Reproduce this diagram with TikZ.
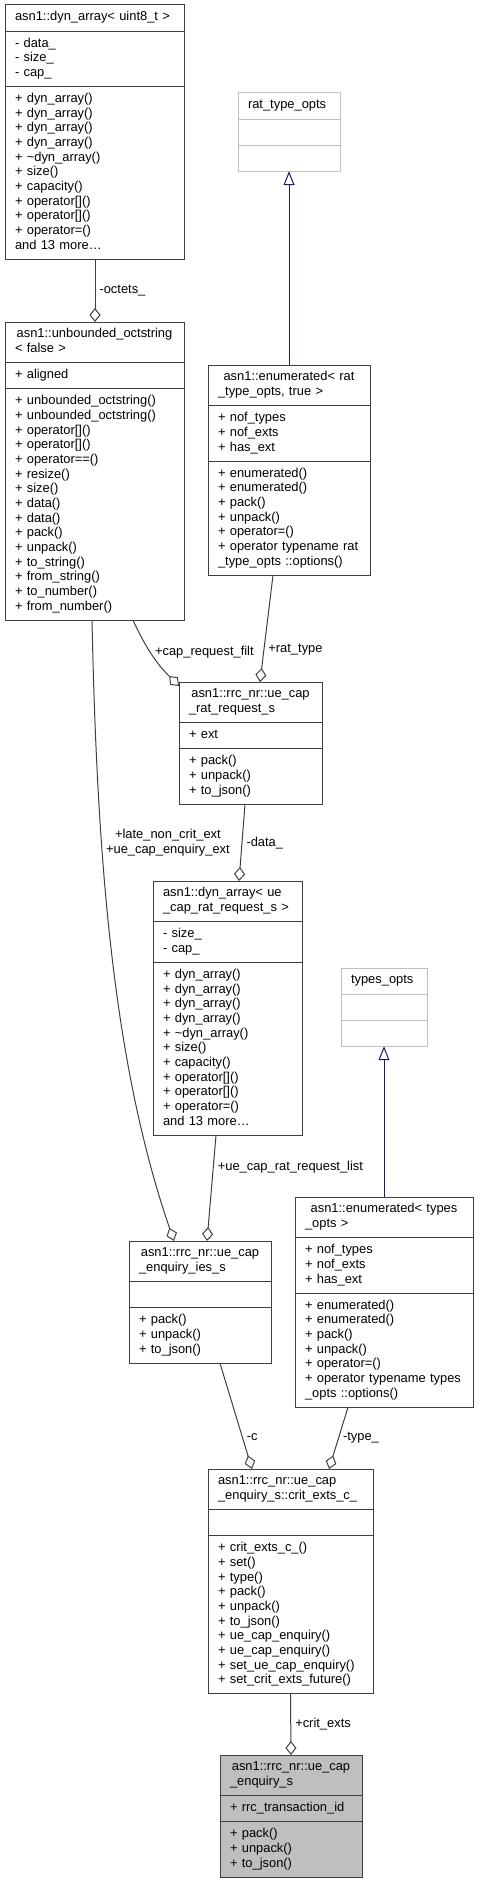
\documentclass[tikz,border=0pt]{standalone}
\usepackage{fontspec}
\setmainfont{Liberation Sans}
\usetikzlibrary{shapes.multipart,arrows.meta}

\definecolor{edgegray}{HTML}{404040}
\definecolor{inhblue}{HTML}{191970}
\definecolor{boxgray}{HTML}{BFBFBF}
\newcommand{\umlfont}{\fontsize{12.9}{14.67}\selectfont}

\tikzset{
  umlclass/.style={rectangle split, rectangle split parts=3, draw=edgegray,
    line width=1pt, font=\umlfont, align=left, inner xsep=10pt,
    inner ysep=5.2pt, outer sep=0pt, anchor=north west},
  extclass/.style={umlclass, draw=boxgray},
  focusclass/.style={umlclass, fill=boxgray},
  member/.style={draw=edgegray, line width=1pt,
    -{Diamond[open,length=14pt,width=11pt]}},
  inherit/.style={draw=inhblue, line width=1pt,
    -{Triangle[open,length=14pt,width=11pt]}},
  lbl/.style={font=\umlfont, inner sep=4pt}
}

\begin{document}
\begin{tikzpicture}[x=1pt, y=-1pt]
    \useasboundingbox (0,0) rectangle (479,1881);

    % Draw the classes
    \node[umlclass, text width=159pt] (dynu8) at (5,5)
        {\centering\strut asn1::dyn\_array< uint8\_t >\strut
         \nodepart{two}\strut - data\_\\- size\_\\- cap\_\strut
         \nodepart{three}\strut + dyn\_array()\\+ dyn\_array()\\+ dyn\_array()\\+ dyn\_array()\\+ \textasciitilde dyn\_array()\\+ size()\\+ capacity()\\+ operator[]()\\+ operator[]()\\+ operator=()\\and 13 more\ldots\strut};
    \node[umlclass, text width=159pt] (octstr) at (5,322)
        {\centering\strut asn1::unbounded\_octstring\\< false >\strut
         \nodepart{two}\strut + aligned\strut
         \nodepart{three}\strut + unbounded\_octstring()\\+ unbounded\_octstring()\\+ operator[]()\\+ operator[]()\\+ operator==()\\+ resize()\\+ size()\\+ data()\\+ data()\\+ pack()\\+ unpack()\\+ to\_string()\\+ from\_string()\\+ to\_number()\\+ from\_number()\strut};
    \node[extclass, text width=82pt] (ratopts) at (238,93)
        {\centering\strut rat\_type\_opts\strut
         \nodepart{two}\strut
         \nodepart{three}\strut};
    \node[umlclass, text width=142pt] (enumrat) at (208,365)
        {\centering\strut asn1::enumerated< rat\\\_type\_opts, true >\strut
         \nodepart{two}\strut + nof\_types\\+ nof\_exts\\+ has\_ext\strut
         \nodepart{three}\strut + enumerated()\\+ enumerated()\\+ pack()\\+ unpack()\\+ operator=()\\+ operator typename rat\\\_type\_opts ::options()\strut};
    \node[umlclass, text width=123pt] (ratreq) at (179,682)
        {\centering\strut asn1::rrc\_nr::ue\_cap\\\_rat\_request\_s\strut
         \nodepart{two}\strut + ext\strut
         \nodepart{three}\strut + pack()\\+ unpack()\\+ to\_json()\strut};
    \node[umlclass, text width=129pt] (dynreq) at (153,881)
        {\strut asn1::dyn\_array< ue\\\_cap\_rat\_request\_s >\strut
         \nodepart{two}\strut - size\_\\- cap\_\strut
         \nodepart{three}\strut + dyn\_array()\\+ dyn\_array()\\+ dyn\_array()\\+ dyn\_array()\\+ \textasciitilde dyn\_array()\\+ size()\\+ capacity()\\+ operator[]()\\+ operator[]()\\+ operator=()\\and 13 more\ldots\strut};
    \node[extclass, text width=66pt] (typesopts) at (341,968)
        {\centering\strut types\_opts\strut
         \nodepart{two}\strut
         \nodepart{three}\strut};
    \node[umlclass, text width=122pt] (ies) at (129,1241)
        {\centering\strut asn1::rrc\_nr::ue\_cap\\\_enquiry\_ies\_s\strut
         \nodepart{two}\strut
         \nodepart{three}\strut + pack()\\+ unpack()\\+ to\_json()\strut};
    \node[umlclass, text width=158pt] (enumtypes) at (295,1197)
        {\centering\strut asn1::enumerated< types\\\_opts >\strut
         \nodepart{two}\strut + nof\_types\\+ nof\_exts\\+ has\_ext\strut
         \nodepart{three}\strut + enumerated()\\+ enumerated()\\+ pack()\\+ unpack()\\+ operator=()\\+ operator typename types\\\_opts ::options()\strut};
    \node[umlclass, text width=145pt] (critc) at (208,1469)
        {\strut asn1::rrc\_nr::ue\_cap\\\_enquiry\_s::crit\_exts\_c\_\strut
         \nodepart{two}\strut
         \nodepart{three}\strut + crit\_exts\_c\_()\\+ set()\\+ type()\\+ pack()\\+ unpack()\\+ to\_json()\\+ ue\_cap\_enquiry()\\+ ue\_cap\_enquiry()\\+ set\_ue\_cap\_enquiry()\\+ set\_crit\_exts\_future()\strut};
    \node[focusclass, text width=122pt] (enq) at (220,1755)
        {\centering\strut asn1::rrc\_nr::ue\_cap\\\_enquiry\_s\strut
         \nodepart{two}\strut + rrc\_transaction\_id\strut
         \nodepart{three}\strut + pack()\\+ unpack()\\+ to\_json()\strut};

    % Draw the inheritance arrows
    \draw[inherit] (enumrat.north) -- (ratopts.south);
    \draw[inherit] (enumtypes.north) -- (typesopts.south);

    % Draw the member links with their labels
    \draw[member] ([xshift=90pt]dynu8.south west) -- ([xshift=90pt]octstr.north west)
        node[lbl, right, midway] {-octets\_};
    \draw[member] ([xshift=65pt]enumrat.south west) -- ([xshift=81pt]ratreq.north west)
        node[lbl, right, pos=0.7] {+rat\_type};
    \draw[member] ([xshift=128pt]octstr.south west) to[out=-65, in=135]
        node[lbl, right, pos=0.45] {+cap\_request\_filt} ([yshift=-4pt]ratreq.north west);
    \draw[member] ([xshift=66pt]ratreq.south west) -- ([xshift=86pt]dynreq.north west)
        node[lbl, right, midway] {-data\_};
    \draw[member] ([xshift=63pt]dynreq.south west) -- ([xshift=78pt]ies.north west)
        node[lbl, right, pos=0.3] {+ue\_cap\_rat\_request\_list};
    \draw[member] ([xshift=87pt]octstr.south west) .. controls +(5,233) and +(-62,-180) .. ([xshift=45pt]ies.north west)
        node[lbl, right, pos=0.33, align=center] {+late\_non\_crit\_ext\\+ue\_cap\_enquiry\_ext};
    \draw[member] ([xshift=91pt]ies.south west) -- ([xshift=44pt]critc.north west)
        node[lbl, right, pos=0.7] {-c};
    \draw[member] ([xshift=53pt]enumtypes.south west) -- ([xshift=121pt]critc.north west)
        node[lbl, right, midway] {-type\_};
    \draw[member] (critc.south) -- (enq.north)
        node[lbl, right, midway] {+crit\_exts};

\end{tikzpicture}
\end{document}
